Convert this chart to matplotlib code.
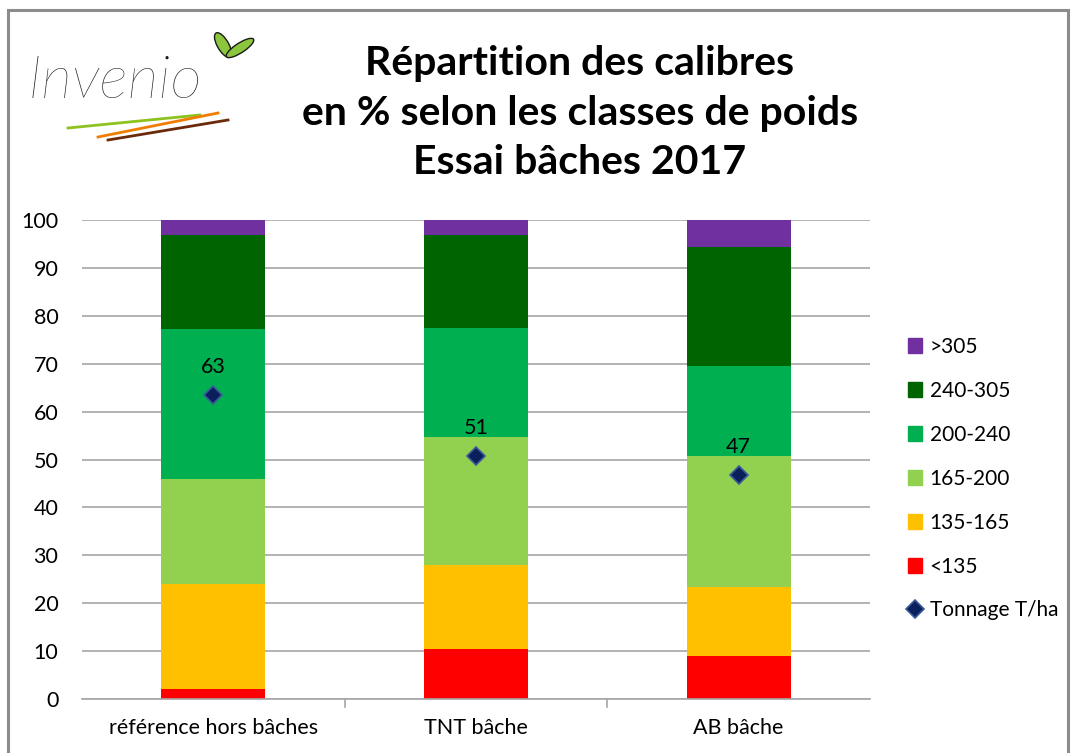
import matplotlib.pyplot as plt
import matplotlib.patches as mpatches
import numpy as np

plt.rcParams['font.family'] = ['Lato', 'DejaVu Sans']

# Data
categories = ['référence hors bâches', 'TNT bâche', 'AB bâche']
classes = ['<135', '135-165', '165-200', '200-240', '240-305', '>305']
colors = ['#FF0000', '#FFC000', '#92D050', '#00B050', '#006400', '#7030A0']
pct_lt135 = [2.0, 10.4, 9.0]
pct_135_165 = [22.0, 17.6, 14.3]
pct_165_200 = [21.9, 26.8, 27.4]
pct_200_240 = [31.4, 22.7, 18.9]
pct_240_305 = [19.6, 19.4, 24.8]
pct_gt305 = [3.1, 3.1, 5.6]
tonnage = [63.4, 50.7, 46.8]

series = [pct_lt135, pct_135_165, pct_165_200, pct_200_240, pct_240_305, pct_gt305]

fig = plt.figure(figsize=(10.76, 7.53), dpi=100)

# Outer grey frame, like the exported chart area
fig.patches.append(mpatches.Rectangle((8 / 1076, -0.01), 1060 / 1076, 1 - 10 / 753 + 0.01,
                                      transform=fig.transFigure, fill=False,
                                      edgecolor='#8c8c8c', linewidth=2.2))

ax = fig.add_axes([82 / 1076, 54 / 753, 788 / 1076, 479 / 753])

x = np.arange(len(categories))
bottom = np.zeros(len(categories))
for vals, lab, col in zip(series, classes, colors):
    ax.bar(x, vals, width=0.395, bottom=bottom, color=col, label=lab, zorder=2)
    bottom += np.array(vals)

# Tonnage markers with labels
ln, = ax.plot(x, tonnage, linestyle='none', marker='D', markersize=9,
              markerfacecolor='#0B1F5C', markeredgecolor='#3A5A9A', markeredgewidth=1.2,
              label='Tonnage T/ha', zorder=4)
for xi, t in zip(x, tonnage):
    ax.annotate('%.0f' % t, (xi, t), xytext=(0, 13), textcoords='offset points',
                ha='center', va='bottom', fontsize=15.5, color='black', zorder=5)

# Axes styling
ax.set_xlim(-0.5, 2.5)
ax.set_ylim(0, 100)
ax.set_yticks(range(0, 101, 10))
ax.set_xticks(x)
ax.set_xticklabels(categories)
ax.tick_params(axis='both', labelsize=15.5, colors='black', length=0)
ax.tick_params(axis='x', pad=14)
ax.tick_params(axis='y', pad=17)
ax.grid(axis='y', color='#a6a6a6', linewidth=1.2, zorder=0)
for side in ['top', 'right', 'left']:
    ax.spines[side].set_visible(False)
ax.spines['bottom'].set_color('#a6a6a6')
ax.spines['bottom'].set_linewidth(1.2)
# small category separators on the x axis
for sep in [0.5, 1.5]:
    ax.plot([sep, sep], [0, -1.6], color='#a6a6a6', linewidth=1.2, clip_on=False)

# Legend: largest class on top, then tonnage
leg_handles = [mpatches.Patch(color=c) for c in colors[::-1]] + [ln]
leg_labels = classes[::-1] + ['Tonnage T/ha']
fig.legend(leg_handles, leg_labels, loc='upper left', bbox_to_anchor=(889 / 1076, 1 - 318 / 753),
           frameon=False, fontsize=15, handlelength=0.7, handleheight=0.7,
           handletextpad=0.35, labelspacing=1.15)

# Title
fig.text(580 / 1076, 1 - 113 / 753,
         'Répartition des calibres\nen % selon les classes de poids\nEssai bâches 2017',
         ha='center', va='center', fontsize=29.5, fontweight='bold', linespacing=1.42)

# Logo
fig.text(28 / 1076, 1 - 82 / 753, 'Invenio', fontsize=44, fontstyle='italic',
         fontweight='light', color='#1a1a1a', ha='left', va='center')
fig.add_artist(plt.Line2D([68 / 1076, 200 / 1076], [1 - 128 / 753, 1 - 115 / 753],
                          color='#8DC21F', linewidth=2, transform=fig.transFigure))
fig.add_artist(plt.Line2D([98 / 1076, 218 / 1076], [1 - 137 / 753, 1 - 113 / 753],
                          color='#F07D00', linewidth=2, transform=fig.transFigure))
fig.add_artist(plt.Line2D([108 / 1076, 228 / 1076], [1 - 140 / 753, 1 - 120 / 753],
                          color='#6B2B0A', linewidth=2, transform=fig.transFigure))
fig.patches.append(mpatches.Ellipse((223 / 1076, 1 - 45 / 753), 12 / 1076, 26 / 753, angle=20,
                                    transform=fig.transFigure, facecolor='#8CC63F',
                                    edgecolor='#1a1a1a', linewidth=1))
fig.patches.append(mpatches.Ellipse((240 / 1076, 1 - 48 / 753), 12 / 1076, 26 / 753, angle=-45,
                                    transform=fig.transFigure, facecolor='#8CC63F',
                                    edgecolor='#1a1a1a', linewidth=1))

fig.savefig('out.png', dpi=100)
